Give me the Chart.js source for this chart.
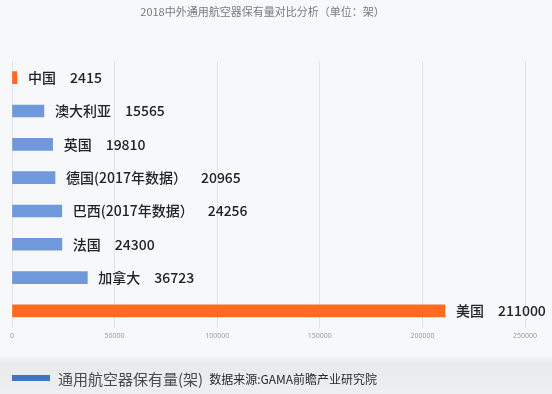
<!DOCTYPE html>
<html>
<head>
<meta charset="utf-8">
<script src="https://cdn.jsdelivr.net/npm/chart.js@4/dist/chart.umd.min.js"></script>
<style>
    html, body { margin: 0; padding: 0; }
    body {
        width: 552px; height: 394px; position: relative; overflow: hidden;
        background: linear-gradient(to bottom, #f7f8fa 0px, #f7f8fa 355px, #e9eaec 362px, #eeeff1 394px);
        font-family: "Noto Sans CJK SC", "Noto Sans", sans-serif;
    }
    #wrap { position: absolute; left: 0; top: 0; width: 552px; height: 394px; }
    #titulo {
        position: absolute; left: 0; width: 525px; top: 3px; text-align: center;
        font-size: 11px; color: #7a7a7a;
    }
    #legenda {
        position: absolute; left: 12px; top: 367px; display: flex; align-items: center;
        white-space: nowrap; height: 22px;
    }
    #legenda .cor { width: 38px; height: 6px; background: #4472c4; margin-right: 8px; }
    #legenda .serie { font-size: 15px; color: #4a4a4a; }
    #legenda .fonte { font-size: 12px; color: #2a2a2a; margin-left: 6px; }
</style>
</head>
<body>
<div id="wrap"><canvas id="grafico"></canvas></div>
<div id="titulo">2018中外通用航空器保有量对比分析（单位：架）</div>
<div id="legenda">
    <span class="cor"></span><span class="serie">通用航空器保有量(架)</span><span class="fonte">数据来源:GAMA前瞻产业研究院</span>
</div>
<script>
const PAISES = ['中国', '澳大利亚', '英国', '德国(2017年数据）', '巴西(2017年数据）', '法国', '加拿大', '美国'];
const QUANTIDADES = [2415, 15565, 19810, 20965, 24256, 24300, 36723, 211000];
const DESTAQUES = [true, false, false, false, false, false, false, true];
const EIXO_MAX = 250000;
const EIXO_PASSO = 50000;

const COR_AZUL = '#7099db';
const COR_LARANJA = '#fd6a22';

const rotulosBarras = {
    id: 'rotulosBarras',
    afterDatasetsDraw(chart) {
        const ctx = chart.ctx;
        const meta = chart.getDatasetMeta(0);
        ctx.save();
        ctx.fillStyle = '#222';
        ctx.textBaseline = 'middle';
        ctx.font = '500 14px "Noto Sans CJK SC"';
        meta.data.forEach((bar, i) => {
            const nome = PAISES[i];
            let x = bar.x + 11;
            ctx.fillText(nome, x, bar.y);
            x += ctx.measureText(nome).width + 14;
            ctx.fillText(String(QUANTIDADES[i]), x, bar.y);
        });
        ctx.restore();
    }
};

new Chart(document.getElementById('grafico').getContext('2d'), {
    type: 'bar',
    data: {
        labels: PAISES,
        datasets: [{
            label: '通用航空器保有量(架)',
            data: QUANTIDADES,
            backgroundColor: DESTAQUES.map(d => d ? COR_LARANJA : COR_AZUL),
            barThickness: 12,
            borderWidth: 0
        }]
    },
    options: {
        indexAxis: 'y',
        responsive: true,
        maintainAspectRatio: false,
        animation: false,
        layout: { padding: { left: 12, right: 27, top: 61, bottom: 50 } },
        scales: {
            x: {
                min: 0,
                max: EIXO_MAX,
                ticks: {
                    stepSize: EIXO_PASSO,
                    color: '#9a9a9a',
                    font: { size: 7, family: 'Noto Sans' },
                    padding: 4,
                    callback: v => String(v)
                },
                grid: { color: '#e3e4e7', drawTicks: false },
                border: { display: false }
            },
            y: {
                display: false,
                grid: { display: false }
            }
        },
        plugins: {
            legend: { display: false },
            tooltip: { enabled: false }
        }
    },
    plugins: [rotulosBarras]
});
</script>
</body>
</html>
